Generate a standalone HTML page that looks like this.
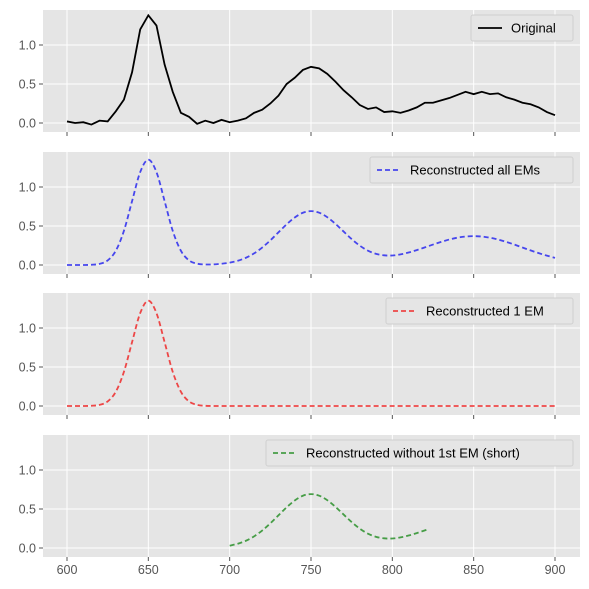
<!DOCTYPE html>
<html><head><meta charset="utf-8"><style>
body{margin:0;background:#fff}
svg{display:block;font-family:"Liberation Sans","DejaVu Sans",sans-serif}
</style></head><body>
<svg id="chart" width="589" height="589" viewBox="0 0 589 589"></svg>
<script>
const xTickLabels = [600, 650, 700, 750, 800, 850, 900];
const yTickLabels = ["0.0", "0.5", "1.0"];
const yTickValues = [0, 0.5, 1.0];
const originalX = [600,605,610,615,620,625,630,635,640,645,650,655,660,665,670,675,680,685,690,695,700,705,710,715,720,725,730,735,740,745,750,755,760,765,770,775,780,785,790,795,800,805,810,815,820,825,830,835,840,845,850,855,860,865,870,875,880,885,890,895,900];
const originalY = [0.02,0.0,0.01,-0.02,0.03,0.02,0.15,0.3,0.65,1.2,1.38,1.25,0.75,0.4,0.13,0.08,-0.01,0.03,0.0,0.04,0.01,0.03,0.06,0.13,0.17,0.25,0.35,0.5,0.58,0.68,0.72,0.7,0.63,0.53,0.42,0.33,0.23,0.18,0.2,0.14,0.15,0.13,0.16,0.2,0.26,0.26,0.29,0.32,0.36,0.4,0.37,0.4,0.37,0.38,0.33,0.3,0.26,0.24,0.2,0.14,0.1];
const recX = [600,605,610,615,620,625,630,635,640,645,650,655,660,665,670,675,680,685,690,695,700,705,710,715,720,725,730,735,740,745,750,755,760,765,770,775,780,785,790,795,800,805,810,815,820,825,830,835,840,845,850,855,860,865,870,875,880,885,890,895,900];
const recAllY = [0,0,0,0.003,0.015,0.059,0.183,0.438,0.819,1.191,1.35,1.191,0.819,0.438,0.183,0.06,0.017,0.007,0.008,0.016,0.03,0.055,0.093,0.149,0.224,0.316,0.419,0.521,0.609,0.67,0.691,0.671,0.613,0.528,0.43,0.332,0.248,0.184,0.143,0.124,0.122,0.136,0.16,0.191,0.226,0.262,0.296,0.327,0.35,0.365,0.37,0.365,0.35,0.327,0.296,0.262,0.224,0.187,0.152,0.12,0.092];
const rec1Y = [0,0,0,0.003,0.015,0.059,0.183,0.438,0.819,1.191,1.35,1.191,0.819,0.438,0.183,0.059,0.015,0.003,0.0005,0,0,0,0,0,0,0,0,0,0,0,0,0,0,0,0,0,0,0,0,0,0,0,0,0,0,0,0,0,0,0,0,0,0,0,0,0,0,0,0,0,0];
const shortX = [700,705,710,715,720,725,730,735,740,745,750,755,760,765,770,775,780,785,790,795,800,805,810,815,820,822];
const shortY = [0.03,0.055,0.093,0.149,0.224,0.316,0.419,0.521,0.609,0.67,0.691,0.671,0.613,0.528,0.43,0.332,0.248,0.184,0.143,0.124,0.122,0.136,0.16,0.191,0.226,0.24];

const NS = "http://www.w3.org/2000/svg";
const svg = document.getElementById("chart");
function mk(tag, attrs, parent){const e=document.createElementNS(NS,tag);for(const k in attrs)e.setAttribute(k,attrs[k]);(parent||svg).appendChild(e);return e;}
const L=43, R=580;
const xS = v => 67 + (v-600)*(488/300);
const panels = [
 {top:10,bottom:132,zero:123,name:"original",xs:originalX,ys:originalY,color:"#000",dash:null,label:"Original",lx:471},
 {top:152,bottom:274,zero:265,name:"reconstructed-all",xs:recX,ys:recAllY,color:"#2a2aee",dash:"5,3",label:"Reconstructed all EMs",lx:370},
 {top:293,bottom:415,zero:406,name:"reconstructed-1",xs:recX,ys:rec1Y,color:"#ee2a2a",dash:"5,3",label:"Reconstructed 1 EM",lx:386},
 {top:435,bottom:557,zero:548,name:"reconstructed-short",xs:shortX,ys:shortY,color:"#2a902a",dash:"5,3",label:"Reconstructed without 1st EM (short)",lx:266}
];
function smooth(pts){
  let d="M"+pts[0][0]+","+pts[0][1];
  for(let i=0;i<pts.length-1;i++){
    const p0=pts[Math.max(0,i-1)],p1=pts[i],p2=pts[i+1],p3=pts[Math.min(pts.length-1,i+2)];
    const c1=[p1[0]+(p2[0]-p0[0])/6,p1[1]+(p2[1]-p0[1])/6];
    const c2=[p2[0]-(p3[0]-p1[0])/6,p2[1]-(p3[1]-p1[1])/6];
    d+=" C"+c1[0].toFixed(2)+","+c1[1].toFixed(2)+" "+c2[0].toFixed(2)+","+c2[1].toFixed(2)+" "+p2[0].toFixed(2)+","+p2[1].toFixed(2);
  }
  return d;
}
panels.forEach((p,pi)=>{
  const yS = v => p.zero - v*78;
  const g = mk("g",{});
  
  
  const bg = mk("rect",{x:L,y:p.top,width:R-L,height:p.bottom-p.top,fill:"#e5e5e5"},g);
  
  
  xTickLabels.forEach(t=>{
    const x=xS(t);
    const gl = mk("line",{x1:x,x2:x,y1:p.top,y2:p.bottom,stroke:"#fff","stroke-width":1},g);
    
    
    const tk = mk("line",{x1:x,x2:x,y1:p.bottom,y2:p.bottom+4,stroke:"#555","stroke-width":1},g);
    
    
    if(pi===3){
      const tl = mk("text",{x:x,y:p.bottom+17,"text-anchor":"middle","font-size":12.5,fill:"#555"},g);
      tl.textContent=t;
      
      
    }
  });
  yTickValues.forEach((v,i)=>{
    const y=yS(v);
    const gl = mk("line",{x1:L,x2:R,y1:y,y2:y,stroke:"#fff","stroke-width":1},g);
    
    
    const tk = mk("line",{x1:L-4,x2:L,y1:y,y2:y,stroke:"#555","stroke-width":1},g);
    
    
    const tl = mk("text",{x:L-7,y:y+4.5,"text-anchor":"end","font-size":12.5,fill:"#555"},g);
    tl.textContent=yTickLabels[i];
    
    
  });
  const pts = p.xs.map((x,i)=>[xS(x),yS(p.ys[i])]);
  const attrs = {fill:"none",stroke:p.color,"stroke-width":1.8,"stroke-opacity":p.dash?0.85:1};
  if(p.dash) attrs["stroke-dasharray"]=p.dash;
  attrs.d = p.dash ? smooth(pts) : "M"+pts.map(q=>q[0].toFixed(2)+","+q[1].toFixed(2)).join(" L");
  const line = mk("path",attrs,g);
  
  
  const lg = mk("g",{},g);
  
  
  const ly=p.top+5;
  mk("rect",{x:p.lx,y:ly,width:573-p.lx,height:26,rx:2,fill:"#e5e5e5",stroke:"#d0d0d0","stroke-width":1},lg);
  const sw = mk("line",{x1:p.lx+7,x2:p.lx+31,y1:ly+13,y2:ly+13,stroke:p.color,"stroke-width":1.8,"stroke-opacity":p.dash?0.85:1,"stroke-dasharray":p.dash||"none"},lg);
  
  
  const lt = mk("text",{x:p.lx+40,y:ly+17.5,"font-size":13,fill:"#000"},lg);
  lt.textContent=p.label;
  
  
});
</script>
</body></html>
